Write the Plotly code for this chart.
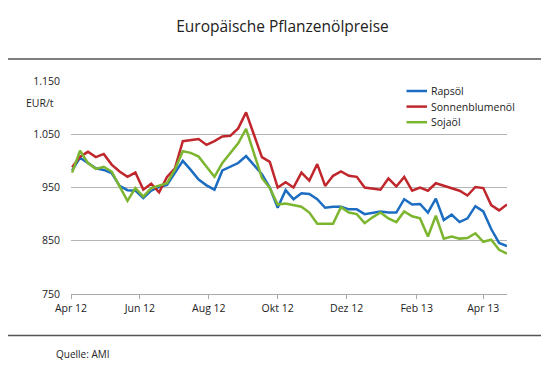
import plotly.graph_objects as go
import pandas as pd

dates = pd.date_range("2012-04-02", periods=56, freq="7D")

rapsoel = [982, 1006, 996, 986, 983, 977, 953, 945, 944, 930, 944, 951, 955, 978, 1000, 983,
           965, 954, 946, 982, 989, 996, 1009, 993, 975, 950, 912, 945, 928, 939, 938, 928,
           912, 914, 914, 909, 909, 900, 903, 905, 903, 903, 928, 918, 919, 903, 929, 889,
           899, 885, 892, 915, 905, 872, 846, 840]
sonnenblumenoel = [988, 1008, 1017, 1007, 1013, 993, 980, 970, 978, 946, 957, 941, 970, 986, 1037, 1039,
                   1041, 1030, 1037, 1046, 1047, 1061, 1091, 1049, 1007, 998, 950, 960, 950, 978, 963, 994,
                   953, 972, 980, 972, 970, 950, 948, 946, 967, 952, 970, 944, 950, 944, 958, 953,
                   948, 944, 935, 951, 949, 917, 907, 918]
sojaoel = [978, 1019, 996, 985, 989, 980, 952, 925, 949, 933, 949, 953, 958, 984, 1018, 1015,
           1008, 989, 970, 996, 1015, 1033, 1060, 1015, 968, 949, 918, 920, 917, 914, 903, 882,
           882, 882, 913, 903, 900, 883, 894, 903, 892, 885, 905, 896, 892, 858, 897, 854,
           858, 854, 855, 864, 848, 852, 833, 826]

series_names = ["Rapsöl", "Sonnenblumenöl", "Sojaöl"]
series_colors = ["#1c6dc1", "#c0272d", "#7cb52f"]

x_tick_vals = ["2012-04-01", "2012-06-01", "2012-08-01", "2012-10-01", "2012-12-01", "2013-02-01", "2013-04-01"]
x_tick_text = ["Apr 12", "Jun 12", "Aug 12", "Okt 12", "Dez 12", "Feb 13", "Apr 13"]
y_tick_vals = [750, 850, 950, 1050, 1150]

FONT = "Open Sans"
TXT = "#222222"

# page body has an 8px default margin: offset layout accordingly
OFF = 8
PL, PT, PW, PH = 71 - OFF, 81 - OFF, 436, 213

fig = go.Figure()
for name, vals, col in zip(series_names, [rapsoel, sonnenblumenoel, sojaoel], series_colors):
    fig.add_trace(go.Scatter(x=dates, y=vals, mode="lines", name=name,
                             line=dict(color=col, width=2.5)))

fig.update_layout(
    width=549, height=375,
    margin=dict(l=PL, r=549 - PL - PW, t=PT, b=375 - PT - PH),
    paper_bgcolor="white", plot_bgcolor="white",
    separators=",.",
    font=dict(family=FONT, size=10.5, color=TXT),
    title=dict(text="Europäische Pflanzenölpreise", x=0.5, xanchor="center",
               y=1 - (27 - OFF) / 375, yanchor="middle", yref="container",
               font=dict(family=FONT, size=15.5, color=TXT)),
    showlegend=False,
    xaxis=dict(type="date", range=["2012-04-01", "2013-04-22"],
               tickvals=x_tick_vals, ticktext=x_tick_text,
               showgrid=False, zeroline=False,
               showline=True, linecolor="#aaaaaa", linewidth=1,
               ticks="outside", ticklen=4, tickcolor="#aaaaaa", tickwidth=1,
               tickfont=dict(family=FONT, size=10.5, color=TXT)),
    yaxis=dict(range=[750, 1150], tickvals=y_tick_vals, tickformat=",d",
               showgrid=True, gridcolor="#b4b4b4", gridwidth=1,
               zeroline=False, showline=False, ticks="", ticklabelstandoff=10,
               tickfont=dict(family=FONT, size=10.5, color=TXT)),
)

def px_x(px):
    return (px - 71) / PW

def px_y(py):
    return (294 - py) / PH

# horizontal separator rules
for py in (59, 335.5):
    fig.add_shape(type="line", xref="paper", yref="paper",
                  x0=px_x(0), x1=px_x(549), y0=px_y(py), y1=px_y(py),
                  line=dict(color="#555555", width=1.5))

# legend (compact, as in the reference)
for k, (name, col) in enumerate(zip(series_names, series_colors)):
    ly = 91 + 15.6 * k
    fig.add_shape(type="line", xref="paper", yref="paper",
                  x0=px_x(406.5), x1=px_x(427), y0=px_y(ly), y1=px_y(ly),
                  line=dict(color=col, width=2.5))
    fig.add_annotation(text=name, xref="paper", yref="paper",
                       x=px_x(428.5), y=px_y(ly), xanchor="left", yanchor="middle",
                       showarrow=False, font=dict(family=FONT, size=10.5, color=TXT))

fig.add_annotation(text="EUR/t", xref="paper", yref="paper",
                   x=px_x(56), y=px_y(103), xanchor="right", yanchor="middle",
                   showarrow=False, font=dict(family=FONT, size=10.5, color=TXT))
fig.add_annotation(text="Quelle: AMI", xref="paper", yref="paper",
                   x=px_x(54), y=px_y(354), xanchor="left", yanchor="middle",
                   showarrow=False, font=dict(family=FONT, size=10, color=TXT))

fig.write_html("out.html")
